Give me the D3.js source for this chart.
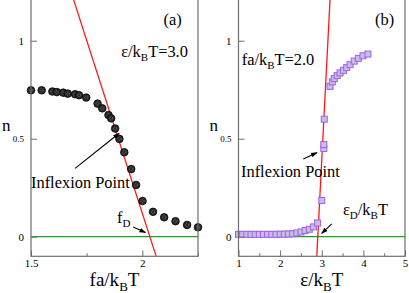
<!DOCTYPE html>
<html><head><meta charset="utf-8">
<script src="https://cdn.jsdelivr.net/npm/d3@7"></script>
</head>
<body style="margin:0;background:#fff">
<svg id="c" width="409" height="293" style="display:block"></svg>
<script>
// ---- data ----
const forceX = [1.5,1.548,1.596,1.616,1.645,1.665,1.698,1.716,1.748,1.799,1.82,1.848,1.86,1.878,1.897,1.919,1.95,1.972,2.001,2.048,2.098,2.149,2.201,2.25];
const forceN = [0.747,0.747,0.741,0.738,0.735,0.73,0.727,0.722,0.71,0.679,0.655,0.621,0.604,0.552,0.499,0.431,0.345,0.264,0.182,0.127,0.099,0.079,0.06,0.048];
const epsX = [1.0,1.1,1.2,1.3,1.4,1.5,1.6,1.7,1.8,1.9,2.0,2.1,2.2,2.3,2.4,2.5,2.6,2.7,2.8,2.9,3.0,3.05,3.05,3.06,3.2,3.255,3.3,3.37,3.44,3.52,3.6,3.68,3.78,3.88,3.99,4.11];
const epsN = [0.012,0.012,0.012,0.012,0.012,0.012,0.012,0.012,0.012,0.012,0.013,0.013,0.014,0.015,0.019,0.024,0.031,0.038,0.05,0.07,0.185,0.45,0.47,0.6,0.767,0.79,0.807,0.822,0.836,0.849,0.863,0.878,0.896,0.91,0.923,0.932];
const fitA = {x:[1.69,2.063], y:[1.214,-0.103]};
const fitB = {x:[3.2,2.88], y:[1.214,-0.103]};
const xTicksA = [1.5,2];
const xMinorA = [1.75,2.25];
const xTicksB = [1,2,3,4,5];
const xMinorB = [1.5,2.5,3.5,4.5];
const yTicks = [0,0.5,1];
const yTickLabels = ["0","0.5","1"];

const FONT = "Liberation Serif";
const svg = d3.select("#c");
const ink = "#000", frame = "#6f6f6f";

svg.append("defs").append("marker").attr("id","ah").attr("viewBox","0 0 10 10")
  .attr("refX",9).attr("refY",5).attr("markerWidth",6).attr("markerHeight",6)
  .attr("orient","auto").append("path").attr("d","M0,1.5 L10,5 L0,8.5 z").attr("fill",ink);

function panel(opt){
  const x = d3.scaleLinear().domain(opt.xd).range(opt.xr);
  const y = d3.scaleLinear().domain([-0.1,1.213]).range([256.3,-1]);
  const g = svg.append("g");
  const cid = "clip"+opt.id;
  g.append("clipPath").attr("id",cid).append("rect")
    .attr("x",opt.xr[0]).attr("y",y(1.213)).attr("width",opt.xr[1]-opt.xr[0]).attr("height",y(-0.1)-y(1.213));
  g.append("line").attr("x1",x(opt.xd[0])).attr("x2",x(opt.xd[1])).attr("y1",y(0)).attr("y2",y(0))
    .attr("stroke","#1fa31f").attr("stroke-width",1.3);
  g.append("line").attr("clip-path",`url(#${cid})`)
    .attr("x1",x(opt.fit.x[0])).attr("y1",y(opt.fit.y[0])).attr("x2",x(opt.fit.x[1])).attr("y2",y(opt.fit.y[1]))
    .attr("stroke","#ff1a1a").attr("stroke-width",1.3);
  const pts = g.append("g");
  opt.xs.forEach((xv,i)=>{
    if(opt.marker==="circle"){
      pts.append("circle").attr("cx",x(xv)).attr("cy",y(opt.ys[i])).attr("r",3.8)
        .attr("fill","#2a2a2a").attr("stroke","#000").attr("stroke-width",0.8);
      pts.append("circle").attr("cx",x(xv)).attr("cy",y(opt.ys[i])).attr("r",1.6)
        .attr("fill","none").attr("stroke","#888").attr("stroke-width",0.6).attr("stroke-dasharray","1,1");
    } else {
      pts.append("rect").attr("x",x(xv)-3).attr("y",y(opt.ys[i])-3).attr("width",6).attr("height",6)
        .attr("fill","#cdb8f0").attr("stroke","#9a66d6").attr("stroke-width",1);
    }
  });
  g.append("rect").attr("x",opt.xr[0]).attr("y",y(1.213)).attr("width",opt.xr[1]-opt.xr[0]).attr("height",y(-0.1)-y(1.213))
    .attr("fill","none").attr("stroke",frame).attr("stroke-width",1.2);
  const xa = g.append("g").attr("transform",`translate(0,${y(-0.1)})`)
    .call(d3.axisBottom(x).tickValues(opt.xt).tickSizeInner(-6).tickSizeOuter(0).tickPadding(4).tickFormat(d3.format("")));
  const xm = g.append("g").attr("transform",`translate(0,${y(-0.1)})`)
    .call(d3.axisBottom(x).tickValues(opt.xm).tickSizeInner(-3).tickSizeOuter(0).tickFormat(""));
  const ya = g.append("g").attr("transform",`translate(${opt.xr[0]},0)`)
    .call(d3.axisLeft(y).tickValues(yTicks).tickSizeInner(-6).tickSizeOuter(0).tickPadding(7).tickFormat((d,i)=>yTickLabels[i]));
  [xa,xm,ya].forEach(a=>{
    a.attr("font-family",null);
    a.select(".domain").remove();
    a.selectAll(".tick line").attr("stroke",frame).attr("stroke-width",1);
    a.selectAll("text").attr("fill",ink).attr("font-size",11).attr("font-family",FONT);
  });
  ya.selectAll(".tick text").filter(d=>d===0.5).attr("font-size",9);
  xa.selectAll(".tick text").attr("dy","0.6em");
  g.append("text").attr("x",opt.xr[0]-29).attr("y",y(0.54)).attr("font-family",FONT).attr("font-size",17).attr("fill",ink).text("n");
  const xt = g.append("text").attr("x",(opt.xr[0]+opt.xr[1])/2).attr("y",286).attr("text-anchor","middle")
    .attr("font-family",FONT).attr("font-size",19).attr("fill",ink);
  xt.append("tspan").text(opt.xtitle[0]);
  xt.append("tspan").attr("font-size",13).attr("dy",5).text("B");
  xt.append("tspan").attr("dy",-5).text("T");
  opt.texts.forEach(t=>{
    const el = g.append("text").attr("x",x(t.x)).attr("y",y(t.y)).attr("font-family",FONT).attr("font-size",16.4).attr("fill",ink);
    t.parts.forEach(p=>{
      const ts = el.append("tspan").text(p[0]);
      if(p[1]==="sub") ts.attr("font-size",11).attr("dy",4);
      if(p[1]==="up") ts.attr("dy",-4);
    });
  });
  opt.arrows.forEach(a=>{
    g.append("line").attr("x1",x(a[0])).attr("y1",y(a[1])).attr("x2",x(a[2])).attr("y2",y(a[3]))
      .attr("stroke",ink).attr("stroke-width",1.1).attr("marker-end","url(#ah)");
  });
}

panel({id:"a", xd:[1.5,2.25], xr:[31,198], xt:xTicksA, xm:xMinorA, xs:forceX, ys:forceN, fit:fitA, marker:"circle",
  xtitle:["fa/k"],
  texts:[
    {x:2.095,y:1.08,parts:[["(a)"]]},
    {x:1.905,y:0.918,parts:[["ε/k"],["B","sub"],["T=3.0","up"]]},
    {x:1.5,y:0.25,parts:[["Inflexion Point"]]},
    {x:1.886,y:0.07,parts:[["f"],["D","sub"]]}
  ],
  arrows:[[1.698,0.349,1.896,0.528],[1.959,0.049,2.014,0.022]]
});
panel({id:"b", xd:[1,5], xr:[238.5,405], xt:xTicksB, xm:xMinorB, xs:epsX, ys:epsN, fit:fitB, marker:"square",
  xtitle:["ε/k"],
  texts:[
    {x:4.28,y:1.08,parts:[["(b)"]]},
    {x:1.077,y:0.876,parts:[["fa/k"],["B","sub"],["T=2.0","up"]]},
    {x:1.06,y:0.306,parts:[["Inflexion Point"]]},
    {x:3.51,y:0.11,parts:[["ε"],["D","sub"],["/k","up"],["B","sub"],["T","up"]]}
  ],
  arrows:[[2.557,0.396,2.885,0.429],[3.24,0.065,3.0,0.017]]
});
</script>
</body></html>
